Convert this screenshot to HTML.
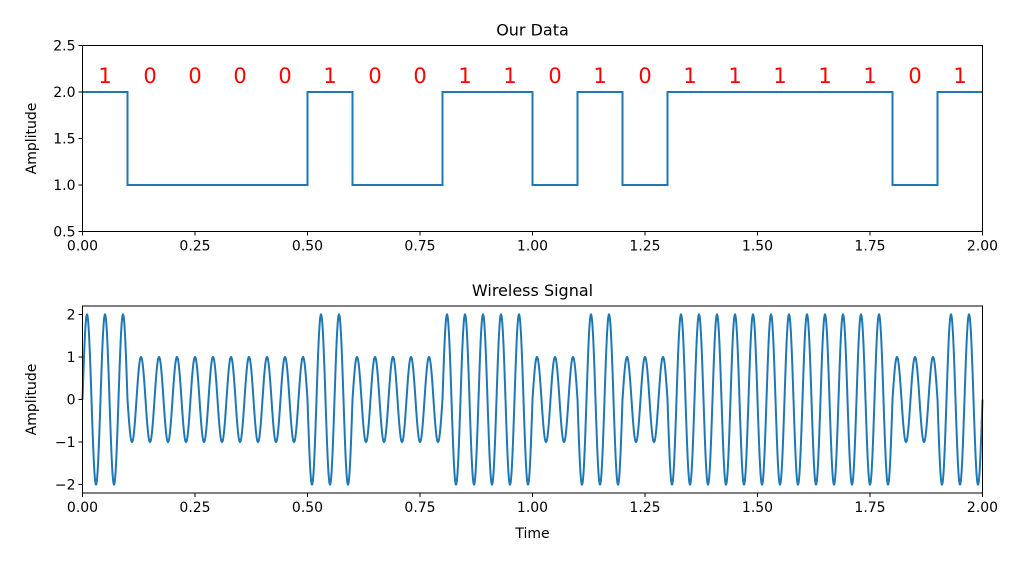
<!DOCTYPE html>
<html><head><meta charset="utf-8"><style>
body{margin:0;background:#fff}
svg{display:block;font-family:"DejaVu Sans","Liberation Sans",sans-serif}
</style></head><body>
<svg id="c" width="1016" height="561"></svg>
<script>
const bits=[1,0,0,0,0,1,0,0,1,1,0,1,0,1,1,1,1,1,0,1];
const bitDur=0.1;
const carrierFreq=25;
const topTicksY=[0.5,1.0,1.5,2.0,2.5];
const botTicksY=[-2,-1,0,1,2];
const xTicks=[0,0.25,0.5,0.75,1.0,1.25,1.5,1.75,2.0];
const NS="http://www.w3.org/2000/svg";
const svg=document.getElementById('c');
function el(t,a,txt){const e=document.createElementNS(NS,t);for(const k in a)e.setAttribute(k,a[k]);if(txt!==undefined)e.textContent=txt;svg.appendChild(e);return e;}
const L=82.5,R=982.5;
const xs=v=>L+(v-0)/(2-0)*(R-L);
function axes(top,bot,ymin,ymax,yticks,fmt,title,prefix,xlabel){
  const ys=v=>bot-(v-ymin)/(ymax-ymin)*(bot-top);
  let t=el('text',{x:(L+R)/2,y:top-10,'text-anchor':'middle','font-size':'16'},title);
  
  yticks.forEach(v=>{
    let l=el('line',{x1:L-4,x2:L,y1:ys(v),y2:ys(v),stroke:'#000','stroke-width':1});
    
    let tx=el('text',{x:L-7,y:ys(v)+5,'text-anchor':'end','font-size':'14'},fmt(v));
    
  });
  xTicks.forEach(v=>{
    let l=el('line',{x1:xs(v),x2:xs(v),y1:bot,y2:bot+4,stroke:'#000','stroke-width':1});
    
    let tx=el('text',{x:xs(v),y:bot+19,'text-anchor':'middle','font-size':'14'},v.toFixed(2));
    
  });
  let yl=el('text',{x:0,y:0,'text-anchor':'middle','font-size':'14',transform:`translate(36,${(top+bot)/2}) rotate(-90)`},'Amplitude');
  
  if(xlabel){let xl=el('text',{x:(L+R)/2,y:bot+45,'text-anchor':'middle','font-size':'14'},xlabel);
    }
  return ys;
}
function frame(top,bot,prefix){
  let r=el('rect',{x:L,y:top,width:R-L,height:bot-top,fill:'none',stroke:'#000','stroke-width':1});
  
}
// top
const ys1=axes(45.5,231.5,0.5,2.5,topTicksY,v=>v.toFixed(1),'Our Data','data-plot');
let d='';
bits.forEach((b,i)=>{const v=b+1;const x0=xs(i*bitDur),x1=xs((i+1)*bitDur);d+=(i?'L':'M')+x0+','+ys1(v)+'L'+x1+','+ys1(v);});
let p=el('path',{d:d,fill:'none',stroke:'#1f77b4','stroke-width':2});

bits.forEach((b,i)=>{
  let t=el('text',{x:xs((i+0.5)*bitDur),y:ys1(2.3)+19,'text-anchor':'middle','font-size':'21',fill:'#f00'},String(b));
  
});
frame(45.5,231.5,'data-plot');
// bottom
const ys2=axes(306,493,-2.2,2.2,botTicksY,v=>v<0?'\u2212'+(-v):String(v),'Wireless Signal','signal-plot','Time');
let d2='';const N=4000;
for(let k=0;k<=N;k++){const t=2*k/N;const i=Math.min(bits.length-1,Math.floor(t/bitDur+1e-9));const a=bits[i]+1;
  const v=a*Math.sin(2*Math.PI*carrierFreq*t);d2+=(k?'L':'M')+xs(t).toFixed(2)+','+ys2(v).toFixed(2);}
let p2=el('path',{d:d2,fill:'none',stroke:'#1f77b4','stroke-width':2});

frame(306,493,'signal-plot');
</script>
</body></html>
